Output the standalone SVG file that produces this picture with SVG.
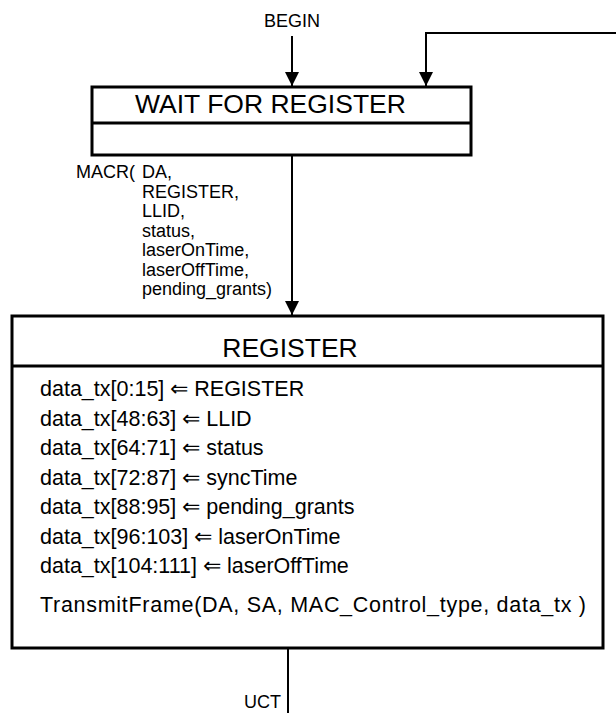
<svg xmlns="http://www.w3.org/2000/svg" width="616" height="713" viewBox="0 0 616 713">
<style>
.box{fill:#fff;stroke:#000;stroke-width:3}
.conn{fill:none;stroke:#000;stroke-width:2}
text{font-family:"Liberation Sans",Arial,sans-serif;fill:#000}
.t18{font-size:18px}
.t21{font-size:21.5px}
.t26{font-size:26.5px}
</style>
<defs>
<marker id="arr" markerUnits="userSpaceOnUse" markerWidth="16" markerHeight="16" viewBox="0 0 16 16" refX="15" refY="8" orient="auto">
<path d="M1,1 L15,8 L1,15 Z" fill="#000"/>
</marker>
</defs>
<rect width="616" height="713" fill="#fff"/>
<g id="connectors">
<path class="conn" d="M292,36 V86" marker-end="url(#arr)"/>
<path class="conn" d="M616,33 H426 V86" marker-end="url(#arr)"/>
<path class="conn" d="M292,155 V315" marker-end="url(#arr)"/>
<path class="conn" d="M288,648 V713"/>
</g>
<g id="begin"><text class="t18" x="292" y="27" text-anchor="middle">BEGIN</text></g>
<g id="wait_for_register">
<rect class="box" x="92" y="87" width="379" height="68"/>
<line x1="92" y1="123" x2="471" y2="123" stroke="#000" stroke-width="3"/>
<text class="t26" x="135" y="113">WAIT FOR REGISTER</text>
</g>
<g id="macr_label">
<text class="t18" x="76" y="178">MACR(</text>
<text class="t18" x="142" y="178">DA,</text>
<text class="t18" x="142" y="197.5">REGISTER,</text>
<text class="t18" x="142" y="217">LLID,</text>
<text class="t18" x="142" y="236.5">status,</text>
<text class="t18" x="142" y="256">laserOnTime,</text>
<text class="t18" x="142" y="275.5">laserOffTime,</text>
<text class="t18" x="142" y="295">pending_grants)</text>
</g>
<g id="register">
<rect class="box" x="12" y="316" width="591" height="332"/>
<line x1="12" y1="366" x2="603" y2="366" stroke="#000" stroke-width="3"/>
<text class="t26" x="290" y="357" text-anchor="middle">REGISTER</text>
<text class="t21" x="40" y="396">data_tx[0:15] ⇐ REGISTER</text>
<text class="t21" x="40" y="425.5">data_tx[48:63] ⇐ LLID</text>
<text class="t21" x="40" y="455">data_tx[64:71] ⇐ status</text>
<text class="t21" x="40" y="484.5">data_tx[72:87] ⇐ syncTime</text>
<text class="t21" x="40" y="514">data_tx[88:95] ⇐ pending_grants</text>
<text class="t21" x="40" y="543.5">data_tx[96:103] ⇐ laserOnTime</text>
<text class="t21" x="40" y="573">data_tx[104:111] ⇐ laserOffTime</text>
<text class="t21" x="40" y="612" textLength="546" lengthAdjust="spacing">TransmitFrame(DA, SA, MAC_Control_type, data_tx )</text>
</g>
<g id="uct"><text class="t18" x="281" y="708" text-anchor="end">UCT</text></g>
</svg>
